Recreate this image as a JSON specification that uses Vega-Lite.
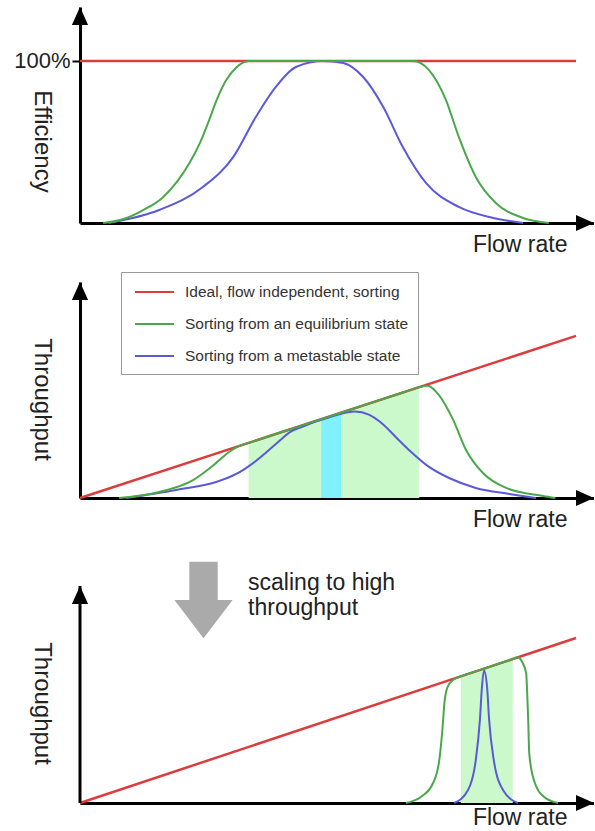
{
  "$schema": "https://vega.github.io/schema/vega-lite/v6.json",
  "background": "white",
  "padding": {"left": 13, "top": 7, "right": 0, "bottom": 0},
  "config": {
    "font": "Liberation Sans",
    "view": {"stroke": null},
    "axis": {"grid": false, "domainColor": "black", "domainWidth": 3, "ticks": false, "labels": false, "titleFontSize": 24, "titleFontWeight": "normal", "titleColor": "#222222"},
    "line": {"strokeWidth": 2, "interpolate": "monotone"}
  },
  "bounds": "flush",
  "spacing": 59,
  "resolve": {"scale": {"color": "independent"}, "legend": {"color": "independent"}},
  "datasets": {
    "eff": [
      {"series": "Ideal, flow independent, sorting", "flow": 0, "value": 1},
      {"series": "Ideal, flow independent, sorting", "flow": 96.5, "value": 1},
      {"series": "Sorting from an equilibrium state", "flow": 4.5, "value": 0},
      {"series": "Sorting from an equilibrium state", "flow": 8.5, "value": 0.025},
      {"series": "Sorting from an equilibrium state", "flow": 12.3, "value": 0.08},
      {"series": "Sorting from an equilibrium state", "flow": 16, "value": 0.155},
      {"series": "Sorting from an equilibrium state", "flow": 19, "value": 0.26},
      {"series": "Sorting from an equilibrium state", "flow": 21.3, "value": 0.37},
      {"series": "Sorting from an equilibrium state", "flow": 23.2, "value": 0.485},
      {"series": "Sorting from an equilibrium state", "flow": 25, "value": 0.625},
      {"series": "Sorting from an equilibrium state", "flow": 26.6, "value": 0.76},
      {"series": "Sorting from an equilibrium state", "flow": 28.3, "value": 0.875},
      {"series": "Sorting from an equilibrium state", "flow": 30.4, "value": 0.96},
      {"series": "Sorting from an equilibrium state", "flow": 32.9, "value": 1},
      {"series": "Sorting from an equilibrium state", "flow": 48, "value": 1},
      {"series": "Sorting from an equilibrium state", "flow": 64.8, "value": 1},
      {"series": "Sorting from an equilibrium state", "flow": 67.9, "value": 0.944},
      {"series": "Sorting from an equilibrium state", "flow": 71.2, "value": 0.759},
      {"series": "Sorting from an equilibrium state", "flow": 73.7, "value": 0.531},
      {"series": "Sorting from an equilibrium state", "flow": 77, "value": 0.284},
      {"series": "Sorting from an equilibrium state", "flow": 80.9, "value": 0.123},
      {"series": "Sorting from an equilibrium state", "flow": 86.2, "value": 0.031},
      {"series": "Sorting from an equilibrium state", "flow": 91.2, "value": 0},
      {"series": "Sorting from a metastable state", "flow": 5.6, "value": 0},
      {"series": "Sorting from a metastable state", "flow": 15.4, "value": 0.08},
      {"series": "Sorting from a metastable state", "flow": 23.9, "value": 0.222},
      {"series": "Sorting from a metastable state", "flow": 29.8, "value": 0.407},
      {"series": "Sorting from a metastable state", "flow": 34.2, "value": 0.654},
      {"series": "Sorting from a metastable state", "flow": 38.1, "value": 0.84},
      {"series": "Sorting from a metastable state", "flow": 42, "value": 0.963},
      {"series": "Sorting from a metastable state", "flow": 47.3, "value": 1},
      {"series": "Sorting from a metastable state", "flow": 51.2, "value": 0.988},
      {"series": "Sorting from a metastable state", "flow": 55.1, "value": 0.901},
      {"series": "Sorting from a metastable state", "flow": 59, "value": 0.716},
      {"series": "Sorting from a metastable state", "flow": 62.8, "value": 0.469},
      {"series": "Sorting from a metastable state", "flow": 67.3, "value": 0.247},
      {"series": "Sorting from a metastable state", "flow": 73.7, "value": 0.099},
      {"series": "Sorting from a metastable state", "flow": 80.4, "value": 0.031},
      {"series": "Sorting from a metastable state", "flow": 86.2, "value": 0}
    ],
    "thr2": [
      {"series": "Ideal, flow independent, sorting", "flow": 0, "value": 0},
      {"series": "Ideal, flow independent, sorting", "flow": 96.5, "value": 96.5},
      {"series": "Sorting from an equilibrium state", "flow": 7.6, "value": 0},
      {"series": "Sorting from an equilibrium state", "flow": 15.4, "value": 3.6},
      {"series": "Sorting from an equilibrium state", "flow": 22, "value": 10.7},
      {"series": "Sorting from an equilibrium state", "flow": 26.5, "value": 20.9},
      {"series": "Sorting from an equilibrium state", "flow": 29, "value": 27.4},
      {"series": "Sorting from an equilibrium state", "flow": 30.9, "value": 30.9},
      {"series": "Sorting from an equilibrium state", "flow": 32.5, "value": 32.5},
      {"series": "Sorting from an equilibrium state", "flow": 35, "value": 35},
      {"series": "Sorting from an equilibrium state", "flow": 40, "value": 40},
      {"series": "Sorting from an equilibrium state", "flow": 45, "value": 45},
      {"series": "Sorting from an equilibrium state", "flow": 50, "value": 50},
      {"series": "Sorting from an equilibrium state", "flow": 55, "value": 55},
      {"series": "Sorting from an equilibrium state", "flow": 60, "value": 60},
      {"series": "Sorting from an equilibrium state", "flow": 63, "value": 63},
      {"series": "Sorting from an equilibrium state", "flow": 66, "value": 66},
      {"series": "Sorting from an equilibrium state", "flow": 67.6, "value": 66.8},
      {"series": "Sorting from an equilibrium state", "flow": 69.8, "value": 61.4},
      {"series": "Sorting from an equilibrium state", "flow": 72.6, "value": 46.5},
      {"series": "Sorting from an equilibrium state", "flow": 75.1, "value": 28.6},
      {"series": "Sorting from an equilibrium state", "flow": 78.4, "value": 14.9},
      {"series": "Sorting from an equilibrium state", "flow": 82.9, "value": 6},
      {"series": "Sorting from an equilibrium state", "flow": 90.1, "value": 1.2},
      {"series": "Sorting from an equilibrium state", "flow": 92.5, "value": 0},
      {"series": "Sorting from a metastable state", "flow": 9, "value": 0},
      {"series": "Sorting from a metastable state", "flow": 18.7, "value": 4.8},
      {"series": "Sorting from a metastable state", "flow": 26.5, "value": 9.5},
      {"series": "Sorting from a metastable state", "flow": 30.4, "value": 14.3},
      {"series": "Sorting from a metastable state", "flow": 34.2, "value": 22},
      {"series": "Sorting from a metastable state", "flow": 38.1, "value": 32.1},
      {"series": "Sorting from a metastable state", "flow": 41, "value": 39.5},
      {"series": "Sorting from a metastable state", "flow": 43.4, "value": 42.6},
      {"series": "Sorting from a metastable state", "flow": 46, "value": 45.6},
      {"series": "Sorting from a metastable state", "flow": 48.5, "value": 48},
      {"series": "Sorting from a metastable state", "flow": 51, "value": 50.3},
      {"series": "Sorting from a metastable state", "flow": 53.5, "value": 51.5},
      {"series": "Sorting from a metastable state", "flow": 56.2, "value": 49.6},
      {"series": "Sorting from a metastable state", "flow": 58.3, "value": 45.5},
      {"series": "Sorting from a metastable state", "flow": 60.1, "value": 40.5},
      {"series": "Sorting from a metastable state", "flow": 62, "value": 34.5},
      {"series": "Sorting from a metastable state", "flow": 64, "value": 28.6},
      {"series": "Sorting from a metastable state", "flow": 67.9, "value": 18.5},
      {"series": "Sorting from a metastable state", "flow": 71.8, "value": 11.9},
      {"series": "Sorting from a metastable state", "flow": 77, "value": 6},
      {"series": "Sorting from a metastable state", "flow": 83.5, "value": 2.4},
      {"series": "Sorting from a metastable state", "flow": 88.7, "value": 0}
    ],
    "thr3": [
      {"series": "Ideal, flow independent, sorting", "flow": 0, "value": 0},
      {"series": "Ideal, flow independent, sorting", "flow": 96.5, "value": 96.5},
      {"series": "Sorting from an equilibrium state", "flow": 63.4, "value": 0},
      {"series": "Sorting from an equilibrium state", "flow": 66.3, "value": 3.5},
      {"series": "Sorting from an equilibrium state", "flow": 68.7, "value": 11.7},
      {"series": "Sorting from an equilibrium state", "flow": 69.9, "value": 25.1},
      {"series": "Sorting from an equilibrium state", "flow": 70.5, "value": 42.7},
      {"series": "Sorting from an equilibrium state", "flow": 70.9, "value": 58.5},
      {"series": "Sorting from an equilibrium state", "flow": 71.5, "value": 67.8},
      {"series": "Sorting from an equilibrium state", "flow": 72.8, "value": 72.4},
      {"series": "Sorting from an equilibrium state", "flow": 74, "value": 74},
      {"series": "Sorting from an equilibrium state", "flow": 76, "value": 76},
      {"series": "Sorting from an equilibrium state", "flow": 78, "value": 78},
      {"series": "Sorting from an equilibrium state", "flow": 80, "value": 80},
      {"series": "Sorting from an equilibrium state", "flow": 82, "value": 82},
      {"series": "Sorting from an equilibrium state", "flow": 84, "value": 84},
      {"series": "Sorting from an equilibrium state", "flow": 85.2, "value": 85.2},
      {"series": "Sorting from an equilibrium state", "flow": 86, "value": 82.6},
      {"series": "Sorting from an equilibrium state", "flow": 86.8, "value": 76},
      {"series": "Sorting from an equilibrium state", "flow": 87, "value": 64.3},
      {"series": "Sorting from an equilibrium state", "flow": 87.2, "value": 48.5},
      {"series": "Sorting from an equilibrium state", "flow": 87.4, "value": 29.2},
      {"series": "Sorting from an equilibrium state", "flow": 88.3, "value": 13.5},
      {"series": "Sorting from an equilibrium state", "flow": 90.3, "value": 3.5},
      {"series": "Sorting from an equilibrium state", "flow": 93, "value": 0},
      {"series": "Sorting from a metastable state", "flow": 72.8, "value": 0},
      {"series": "Sorting from a metastable state", "flow": 75.5, "value": 7.6},
      {"series": "Sorting from a metastable state", "flow": 77, "value": 25.1},
      {"series": "Sorting from a metastable state", "flow": 77.8, "value": 48.5},
      {"series": "Sorting from a metastable state", "flow": 78.2, "value": 67.8},
      {"series": "Sorting from a metastable state", "flow": 78.6, "value": 77.5},
      {"series": "Sorting from a metastable state", "flow": 79.2, "value": 67.8},
      {"series": "Sorting from a metastable state", "flow": 79.6, "value": 48.5},
      {"series": "Sorting from a metastable state", "flow": 80.5, "value": 25.1},
      {"series": "Sorting from a metastable state", "flow": 82.3, "value": 7.6},
      {"series": "Sorting from a metastable state", "flow": 85.2, "value": 0}
    ],
    "shade2": [
      {"kind": "green", "seg": "a", "flow": 32.8, "value": 32.8},
      {"kind": "green", "seg": "a", "flow": 46.9, "value": 46.9},
      {"kind": "cyan", "seg": "b", "flow": 46.9, "value": 46.9},
      {"kind": "cyan", "seg": "b", "flow": 50.8, "value": 50.8},
      {"kind": "green", "seg": "c", "flow": 50.8, "value": 50.8},
      {"kind": "green", "seg": "c", "flow": 66, "value": 66}
    ],
    "shade3": [
      {"kind": "green", "seg": "a", "flow": 74.1, "value": 74.1},
      {"kind": "green", "seg": "a", "flow": 84.2, "value": 84.2}
    ]
  },
  "vconcat": [
    {
      "width": 514,
      "height": 216,
      "encoding": {
        "x": {"field": "flow", "type": "quantitative", "scale": {"domain": [0, 100], "nice": false, "zero": false},
              "axis": {"title": "Flow rate", "titleX": 487, "titleY": 28, "titleAlign": "right", "titleBaseline": "alphabetic", "titleFontSize": 23}},
        "y": {"field": "value", "type": "quantitative", "stack": null, "scale": {"domain": [0, 1.3333], "nice": false},
              "axis": {"title": "Efficiency", "titleAngle": 90, "titleX": -39, "titleY": 134, "titleAlign": "center", "titleBaseline": "middle",
                       "values": [1], "labels": true, "ticks": true, "labelExpr": "'100%'", "tickSize": 8, "tickWidth": 2, "tickColor": "black",
                       "labelFontSize": 22, "labelColor": "#222222", "labelPadding": 2}}
      },
      "layer": [
        {"data": {"name": "eff"}, "transform": [{"filter": {"field": "series", "equal": "Ideal, flow independent, sorting"}}],
         "mark": {"type": "line", "strokeWidth": 2.5},
         "encoding": {"color": {"field": "series", "type": "nominal", "legend": null,
           "scale": {"domain": ["Ideal, flow independent, sorting", "Sorting from an equilibrium state", "Sorting from a metastable state"], "range": ["#dc3c3c", "#4aa84a", "#5a5ad6"]}}}},
        {"data": {"name": "eff"}, "transform": [{"filter": {"field": "series", "equal": "Sorting from a metastable state"}}],
         "mark": {"type": "line"},
         "encoding": {"color": {"field": "series", "type": "nominal", "legend": null,
           "scale": {"domain": ["Ideal, flow independent, sorting", "Sorting from an equilibrium state", "Sorting from a metastable state"], "range": ["#dc3c3c", "#4aa84a", "#5a5ad6"]}}}},
        {"data": {"name": "eff"}, "transform": [{"filter": {"field": "series", "equal": "Sorting from an equilibrium state"}}],
         "mark": {"type": "line"},
         "encoding": {"color": {"field": "series", "type": "nominal", "legend": null,
           "scale": {"domain": ["Ideal, flow independent, sorting", "Sorting from an equilibrium state", "Sorting from a metastable state"], "range": ["#dc3c3c", "#4aa84a", "#5a5ad6"]}}}},
        {"data": {"values": [{"flow": 0, "value": 1.3333}]},
         "mark": {"type": "point", "shape": "M0,0L-0.45,1L0.45,1Z", "filled": true, "size": 1296, "color": "black", "opacity": 1, "strokeWidth": 0}},
        {"data": {"values": [{"flow": 100, "value": 0}]},
         "mark": {"type": "point", "shape": "M0,0L-1,-0.45L-1,0.45Z", "filled": true, "size": 1296, "color": "black", "opacity": 1, "strokeWidth": 0}}
      ]
    },
    {
      "width": 514,
      "height": 216,
      "encoding": {
        "x": {"field": "flow", "type": "quantitative", "scale": {"domain": [0, 100], "nice": false, "zero": false},
              "axis": {"title": "Flow rate", "titleX": 487, "titleY": 28, "titleAlign": "right", "titleBaseline": "alphabetic", "titleFontSize": 23}},
        "y": {"field": "value", "type": "quantitative", "stack": null, "scale": {"domain": [0, 128.6], "nice": false},
              "axis": {"title": "Throughput", "titleAngle": 90, "titleX": -39, "titleY": 117, "titleAlign": "center", "titleBaseline": "middle"}}
      },
      "layer": [
        {"data": {"name": "shade2"}, "transform": [{"filter": {"field": "kind", "equal": "green"}}],
         "mark": {"type": "area", "color": "#ccf9cc", "opacity": 1},
         "encoding": {"detail": {"field": "seg"}}},
        {"data": {"name": "shade2"}, "transform": [{"filter": {"field": "kind", "equal": "cyan"}}],
         "mark": {"type": "area", "color": "#80f2ff", "opacity": 1},
         "encoding": {"detail": {"field": "seg"}}},
        {"data": {"name": "thr2"}, "transform": [{"filter": {"field": "series", "equal": "Ideal, flow independent, sorting"}}],
         "mark": {"type": "line", "strokeWidth": 2.5},
         "encoding": {"color": {"field": "series", "type": "nominal",
           "scale": {"domain": ["Ideal, flow independent, sorting", "Sorting from an equilibrium state", "Sorting from a metastable state"], "range": ["#dc3c3c", "#4aa84a", "#5a5ad6"]},
           "legend": {"orient": "none", "legendX": 41, "legendY": -10, "title": null, "padding": 9, "fillColor": "white", "strokeColor": "#999999",
                      "symbolType": "M-0.6,0L3.3,0", "symbolSize": 400, "symbolStrokeWidth": 2.5, "labelFontSize": 15.5, "labelColor": "#333333",
                      "labelOffset": 33, "rowPadding": 12, "labelLimit": 400}}}},
        {"data": {"name": "thr2"}, "transform": [{"filter": {"field": "series", "equal": "Sorting from a metastable state"}}],
         "mark": {"type": "line"},
         "encoding": {"color": {"field": "series", "type": "nominal",
           "scale": {"domain": ["Ideal, flow independent, sorting", "Sorting from an equilibrium state", "Sorting from a metastable state"], "range": ["#dc3c3c", "#4aa84a", "#5a5ad6"]},
           "legend": {"orient": "none", "legendX": 41, "legendY": -10, "title": null, "padding": 9, "fillColor": "white", "strokeColor": "#999999",
                      "symbolType": "M-0.6,0L3.3,0", "symbolSize": 400, "symbolStrokeWidth": 2.5, "labelFontSize": 15.5, "labelColor": "#333333",
                      "labelOffset": 33, "rowPadding": 12, "labelLimit": 400}}}},
        {"data": {"name": "thr2"}, "transform": [{"filter": {"field": "series", "equal": "Sorting from an equilibrium state"}}],
         "mark": {"type": "line"},
         "encoding": {"color": {"field": "series", "type": "nominal",
           "scale": {"domain": ["Ideal, flow independent, sorting", "Sorting from an equilibrium state", "Sorting from a metastable state"], "range": ["#dc3c3c", "#4aa84a", "#5a5ad6"]},
           "legend": {"orient": "none", "legendX": 41, "legendY": -10, "title": null, "padding": 9, "fillColor": "white", "strokeColor": "#999999",
                      "symbolType": "M-0.6,0L3.3,0", "symbolSize": 400, "symbolStrokeWidth": 2.5, "labelFontSize": 15.5, "labelColor": "#333333",
                      "labelOffset": 33, "rowPadding": 12, "labelLimit": 400}}}},
        {"data": {"values": [{"flow": 0, "value": 128.6}]},
         "mark": {"type": "point", "shape": "M0,0L-0.45,1L0.45,1Z", "filled": true, "size": 1296, "color": "black", "opacity": 1, "strokeWidth": 0}},
        {"data": {"values": [{"flow": 100, "value": 0}]},
         "mark": {"type": "point", "shape": "M0,0L-1,-0.45L-1,0.45Z", "filled": true, "size": 1296, "color": "black", "opacity": 1, "strokeWidth": 0}}
      ]
    },
    {
      "width": 514,
      "height": 246,
      "encoding": {
        "x": {"field": "flow", "type": "quantitative", "scale": {"domain": [0, 100], "nice": false, "zero": false},
              "axis": {"title": "Flow rate", "titleX": 487, "titleY": 21, "titleAlign": "right", "titleBaseline": "alphabetic", "titleFontSize": 23}},
        "y": {"field": "value", "type": "quantitative", "stack": null, "scale": {"domain": [0, 143.86], "nice": false},
              "axis": {"title": "Throughput", "titleAngle": 90, "titleX": -39, "titleY": 146, "titleAlign": "center", "titleBaseline": "middle", "domain": false}}
      },
      "layer": [
        {"data": {"name": "shade3"},
         "mark": {"type": "area", "color": "#ccf9cc", "opacity": 1},
         "encoding": {"detail": {"field": "seg"}}},
        {"data": {"name": "thr3"}, "transform": [{"filter": {"field": "series", "equal": "Ideal, flow independent, sorting"}}],
         "mark": {"type": "line", "strokeWidth": 2.5},
         "encoding": {"color": {"field": "series", "type": "nominal", "legend": null,
           "scale": {"domain": ["Ideal, flow independent, sorting", "Sorting from an equilibrium state", "Sorting from a metastable state"], "range": ["#dc3c3c", "#4aa84a", "#5a5ad6"]}}}},
        {"data": {"name": "thr3"}, "transform": [{"filter": {"field": "series", "equal": "Sorting from a metastable state"}}],
         "mark": {"type": "line"},
         "encoding": {"color": {"field": "series", "type": "nominal", "legend": null,
           "scale": {"domain": ["Ideal, flow independent, sorting", "Sorting from an equilibrium state", "Sorting from a metastable state"], "range": ["#dc3c3c", "#4aa84a", "#5a5ad6"]}}}},
        {"data": {"name": "thr3"}, "transform": [{"filter": {"field": "series", "equal": "Sorting from an equilibrium state"}}],
         "mark": {"type": "line"},
         "encoding": {"color": {"field": "series", "type": "nominal", "legend": null,
           "scale": {"domain": ["Ideal, flow independent, sorting", "Sorting from an equilibrium state", "Sorting from a metastable state"], "range": ["#dc3c3c", "#4aa84a", "#5a5ad6"]}}}},
        {"data": {"values": [{"flow": 0, "value": 0, "value2": 126.9}]},
         "mark": {"type": "rule", "strokeWidth": 3, "color": "black"},
         "encoding": {"y2": {"field": "value2"}}},
        {"data": {"values": [{"flow": 0, "value": 126.9}]},
         "mark": {"type": "point", "shape": "M0,0L-0.45,1L0.45,1Z", "filled": true, "size": 1296, "color": "black", "opacity": 1, "strokeWidth": 0}},
        {"data": {"values": [{"flow": 100, "value": 0}]},
         "mark": {"type": "point", "shape": "M0,0L-1,-0.45L-1,0.45Z", "filled": true, "size": 1296, "color": "black", "opacity": 1, "strokeWidth": 0}},
        {"data": {"values": [{"flow": 24.03, "value": 118.7}]},
         "mark": {"type": "point", "shape": "M-0.37,-1L0.37,-1L0.37,0L0.76,0L0,1L-0.76,0L-0.37,0Z", "filled": true, "size": 5868, "color": "#aaaaaa", "opacity": 1, "strokeWidth": 0}},
        {"data": {"values": [{"flow": 32.7, "value": 124.3, "label": "scaling to high\nthroughput"}]},
         "mark": {"type": "text", "align": "left", "baseline": "alphabetic", "fontSize": 23, "lineHeight": 25, "lineBreak": "\n", "color": "#222222"},
         "encoding": {"text": {"field": "label"}}}
      ]
    }
  ]
}
